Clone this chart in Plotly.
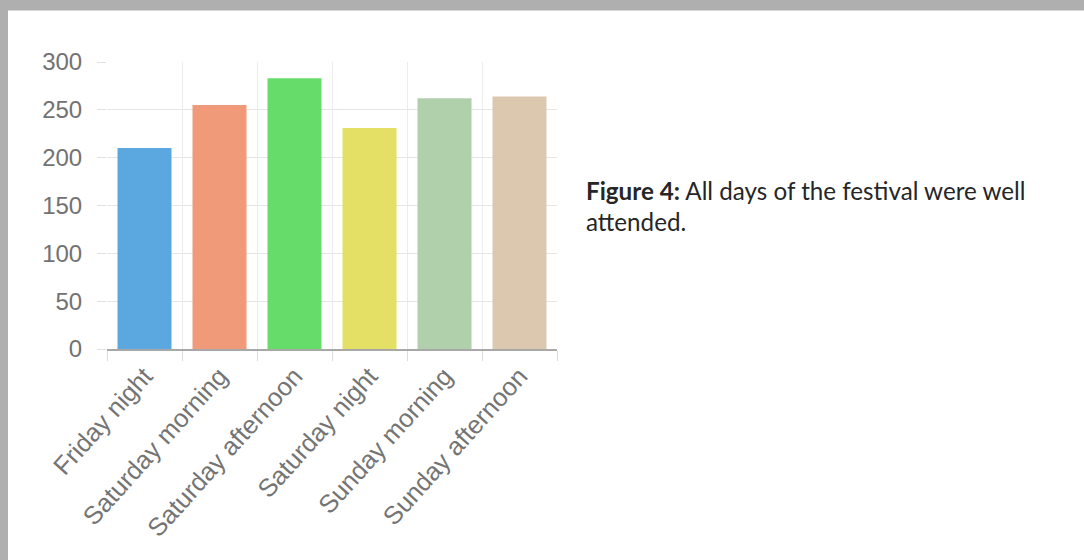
import plotly.graph_objects as go

categories = ["Friday night", "Saturday morning", "Saturday afternoon",
              "Saturday night", "Sunday morning", "Sunday afternoon"]
attendance = [210, 255, 283, 231, 262, 264]
bar_colors = ["#5ba8e0", "#f09a7a", "#66dd6a", "#e4e065", "#b0d0ab", "#dcc8ae"]
y_ticks = [0, 50, 100, 150, 200, 250, 300]
caption_bold = "Figure 4:"
caption_line1 = " All days of the festival were well"
caption_line2 = "attended."

W, H = 1084, 560
L, R, T, B = 107, 1084 - 557, 62, 560 - 349
pw, ph = W - L - R, H - T - B

def px_x(px):
    return (px - L) / pw

def px_y(py):
    return (H - B - py) / ph

fig = go.Figure(go.Bar(
    x=categories, y=attendance,
    marker=dict(color=bar_colors, line=dict(width=0)),
))

fig.update_layout(
    width=W, height=H,
    margin=dict(l=L, r=R, t=T, b=B, pad=0),
    paper_bgcolor="white", plot_bgcolor="white",
    bargap=0.28, showlegend=False,
    font=dict(family="Liberation Sans, Arial", color="#707070"),
)
fig.update_yaxes(
    range=[0, 300], tickvals=y_ticks, ticks="outside", ticklen=9,
    tickcolor="#e0e0e0", gridcolor="#e6e6e6", gridwidth=1,
    zeroline=False, showline=False, ticklabelstandoff=10,
    tickfont=dict(size=24, color="#727272"),
)
fig.update_xaxes(
    tickson="boundaries", ticks="outside", ticklen=10, tickcolor="#dcdcdc",
    showgrid=True, gridcolor="#ececec", tickangle=-48,
    showline=True, linecolor="#a8a8a8", linewidth=2,
    tickfont=dict(size=25.5, color="#747474"),
)

# gray frame strips (top and left)
fig.add_shape(type="rect", xref="paper", yref="paper",
              x0=px_x(0), x1=px_x(W), y0=px_y(10.5), y1=px_y(0),
              fillcolor="#afafaf", line=dict(width=0), layer="above")
fig.add_shape(type="rect", xref="paper", yref="paper",
              x0=px_x(0), x1=px_x(8), y0=px_y(H), y1=px_y(0),
              fillcolor="#afafaf", line=dict(width=0), layer="above")

fig.add_annotation(
    xref="paper", yref="paper", x=px_x(584), y=px_y(190),
    xanchor="left", yanchor="middle", showarrow=False,
    text="<b>" + caption_bold + "</b>" + caption_line1,
    font=dict(family="Lato", size=24.2, color="#262626"),
)
fig.add_annotation(
    xref="paper", yref="paper", x=px_x(584), y=px_y(221),
    xanchor="left", yanchor="middle", showarrow=False,
    text=caption_line2,
    font=dict(family="Lato", size=24.2, color="#262626"),
)

fig.write_html("out.html", config={"displayModeBar": False},
               post_script="document.body.style.margin='0';document.body.style.overflow='hidden';")
